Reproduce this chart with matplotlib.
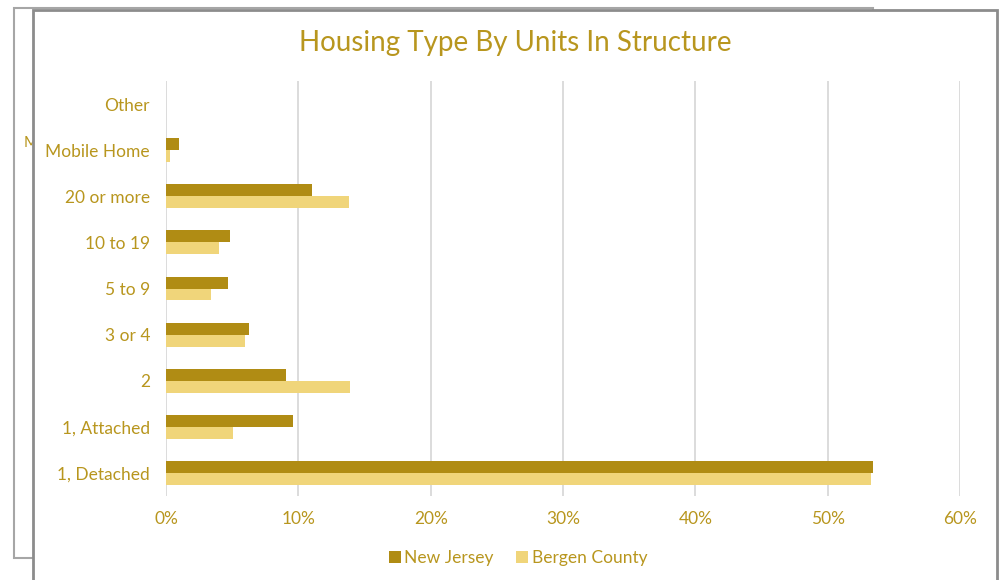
import matplotlib.pyplot as plt
import matplotlib.patches as patches
import numpy as np

categories = ["1, Detached", "1, Attached", "2", "3 or 4", "5 to 9",
              "10 to 19", "20 or more", "Mobile Home", "Other"]
new_jersey = [53.4, 9.6, 9.1, 6.3, 4.7, 4.8, 11.0, 1.0, 0.0]
bergen = [53.3, 5.1, 13.9, 6.0, 3.4, 4.0, 13.8, 0.3, 0.0]
xticks = [0, 10, 20, 30, 40, 50, 60]
xtick_labels = ["0%", "10%", "20%", "30%", "40%", "50%", "60%"]

gold_dark = "#B08C14"
gold_light = "#F0D57A"
text_col = "#B8961E"

plt.rcParams['font.family'] = ['Lato', 'DejaVu Sans']

W, H = 1004, 580
fig = plt.figure(figsize=(W / 100, H / 100), dpi=100)

def fx(x):
    return x / W

def fy(y):
    return 1 - y / H

# the chart behind (partly hidden)
back = patches.Rectangle((fx(14), fy(558)), fx(873) - fx(14), fy(8) - fy(558),
                         transform=fig.transFigure, facecolor="white",
                         edgecolor="#A6A6A6", linewidth=1.5, zorder=0)
fig.patches.append(back)
fig.text(fx(24), fy(143), "M", color=text_col, fontsize=11, va="center",
         ha="left", zorder=1)

# front panel
front = patches.Rectangle((fx(33), fy(600)), fx(997) - fx(33), fy(10) - fy(600),
                          transform=fig.transFigure, facecolor="white",
                          edgecolor="#8C8C8C", linewidth=2, zorder=2)
fig.patches.append(front)

ax = fig.add_axes([fx(166), fy(496), fx(960) - fx(166), fy(81) - fy(496)])
ax.set_zorder(3)
ax.patch.set_alpha(0)

y = np.arange(len(categories))
h = 0.26
ax.barh(y + h / 2, new_jersey, height=h, color=gold_dark, label="New Jersey", zorder=3)
ax.barh(y - h / 2, bergen, height=h, color=gold_light, label="Bergen County", zorder=3)

ax.set_xlim(0, 60)
ax.set_ylim(-0.5, len(categories) - 0.5)
ax.set_xticks(xticks)
ax.set_xticklabels(xtick_labels)
ax.set_yticks(y)
ax.set_yticklabels(categories)
ax.tick_params(axis="both", length=0, colors=text_col, labelsize=12.5)
ax.tick_params(axis="y", pad=11.5)
ax.tick_params(axis="x", pad=11)
ax.grid(axis="x", color="#D9D9D9", linewidth=1.3, zorder=0)
for s in ax.spines.values():
    s.set_visible(False)

fig.text(fx(515), fy(43), "Housing Type By Units In Structure", color=text_col,
         fontsize=20, ha="center", va="center", zorder=4)

leg = ax.legend(loc="center", bbox_to_anchor=(fx(518), fy(558)),
                bbox_transform=fig.transFigure, ncol=2, frameon=False,
                fontsize=12.5, handlelength=0.7, handleheight=0.7,
                handletextpad=0.2, columnspacing=1.3)
for t in leg.get_texts():
    t.set_color(text_col)

fig.savefig("out.png", dpi=100)
